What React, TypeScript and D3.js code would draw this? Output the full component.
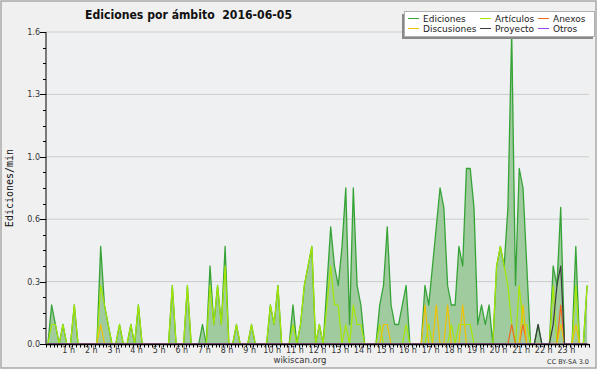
import React from 'react';
import * as d3 from 'd3';

// edits per minute, one value per 10-minute slot (6 per hour)
const ediciones = [
  0, 0.2, 0.1, 0, 0.1, 0,     // 0 h
  0, 0.2, 0, 0, 0, 0,         // 1 h
  0, 0, 0.5, 0.2, 0.1, 0,     // 2 h
  0, 0.1, 0, 0, 0.1, 0,       // 3 h
  0.2, 0, 0, 0, 0, 0,         // 4 h
  0, 0, 0, 0.3, 0, 0,         // 5 h
  0, 0.3, 0, 0, 0, 0.1,       // 6 h
  0, 0.4, 0.1, 0.3, 0.1, 0.5, // 7 h
  0, 0, 0.1, 0, 0, 0,         // 8 h
  0.1, 0, 0, 0, 0, 0.2,       // 9 h
  0.1, 0.3, 0, 0, 0, 0.2,     // 10 h
  0, 0.1, 0.3, 0.4, 0.5, 0,   // 11 h
  0.1, 0, 0.3, 0.6, 0.4, 0.3, // 12 h
  0.5, 0.8, 0.1, 0.8, 0.3, 0.2, // 13 h
  0, 0, 0, 0, 0.2, 0.3,       // 14 h
  0.6, 0.2, 0.1, 0.1, 0.2, 0.3, // 15 h
  0, 0, 0, 0, 0.3, 0.2,       // 16 h
  0.4, 0.6, 0.8, 0.7, 0.3, 0.2, // 17 h
  0.2, 0.5, 0.4, 0.9, 0.9, 0.7, // 18 h
  0.1, 0.2, 0.1, 0.2, 0, 0.4, // 19 h
  0.5, 0.4, 0.7, 1.6, 0.3, 0.9, // 20 h
  0.8, 0.4, 0, 0, 0.1, 0,     // 21 h
  0, 0, 0.4, 0.3, 0.7, 0,     // 22 h
  0, 0, 0.5, 0, 0, 0.3,       // 23 h
];

const articulos = [
  0, 0.1, 0.1, 0, 0.1, 0,
  0, 0.2, 0, 0, 0, 0,
  0, 0, 0.3, 0.2, 0.1, 0,
  0, 0.1, 0, 0, 0.1, 0,
  0.2, 0, 0, 0, 0, 0,
  0, 0, 0, 0.3, 0, 0,
  0, 0.3, 0, 0, 0, 0,
  0, 0.3, 0.1, 0.3, 0.1, 0.4,
  0, 0, 0.1, 0, 0, 0,
  0.1, 0, 0, 0, 0, 0.2,
  0.1, 0.3, 0, 0, 0, 0.1,
  0, 0.1, 0.3, 0.4, 0.5, 0,
  0.1, 0, 0.2, 0.4, 0.2, 0.2,
  0, 0.1, 0, 0.2, 0.1, 0.1,
  0, 0, 0, 0, 0.1, 0,
  0, 0, 0, 0, 0, 0.1,
  0, 0, 0, 0, 0, 0.1,
  0, 0, 0, 0, 0, 0.1,
  0, 0.1, 0.1, 0.1, 0.1, 0,
  0, 0, 0, 0, 0, 0.4,
  0.5, 0.4, 0.3, 0.1, 0, 0.3,
  0.1, 0.1, 0, 0, 0, 0,
  0, 0, 0.3, 0, 0, 0,
  0, 0, 0.3, 0, 0, 0.3,
];

const anexos = [
  0, 0, 0, 0, 0, 0,
  0, 0, 0, 0, 0, 0,
  0, 0, 0, 0, 0, 0,
  0, 0, 0, 0, 0, 0,
  0, 0, 0, 0, 0, 0,
  0, 0, 0, 0, 0, 0,
  0, 0, 0, 0, 0, 0,
  0, 0, 0, 0, 0, 0,
  0, 0, 0, 0, 0, 0,
  0, 0, 0, 0, 0, 0,
  0, 0, 0, 0, 0, 0,
  0, 0, 0, 0, 0, 0,
  0, 0, 0, 0, 0, 0,
  0, 0, 0, 0, 0, 0,
  0, 0, 0, 0, 0, 0,
  0, 0, 0, 0, 0, 0,
  0, 0, 0, 0, 0, 0,
  0, 0, 0, 0, 0, 0,
  0, 0, 0, 0, 0, 0,
  0, 0, 0, 0, 0, 0,
  0, 0, 0, 0.1, 0, 0,
  0.1, 0, 0, 0, 0, 0,
  0, 0, 0, 0, 0.2, 0,
  0, 0, 0, 0, 0, 0,
];

const discusiones = [
  0, 0, 0, 0, 0, 0,
  0, 0, 0, 0, 0, 0,
  0, 0, 0.1, 0, 0, 0,
  0, 0, 0, 0, 0, 0,
  0, 0, 0, 0, 0, 0,
  0, 0, 0, 0, 0, 0,
  0, 0, 0, 0, 0, 0,
  0, 0, 0, 0, 0, 0,
  0, 0, 0, 0, 0, 0,
  0, 0, 0, 0, 0, 0,
  0, 0, 0, 0, 0, 0,
  0, 0, 0, 0, 0, 0,
  0, 0, 0, 0, 0, 0,
  0, 0, 0, 0, 0, 0,
  0, 0, 0, 0, 0, 0.1,
  0.1, 0, 0, 0, 0, 0,
  0, 0, 0, 0, 0.2, 0,
  0, 0.2, 0, 0, 0.2, 0,
  0, 0, 0.2, 0, 0, 0,
  0, 0, 0, 0, 0, 0,
  0, 0, 0, 0, 0, 0,
  0.2, 0, 0, 0, 0, 0,
  0, 0, 0, 0, 0.1, 0,
  0, 0, 0.1, 0, 0, 0,
];

const proyecto = [
  0, 0, 0, 0, 0, 0,
  0, 0, 0, 0, 0, 0,
  0, 0, 0, 0, 0, 0,
  0, 0, 0, 0, 0, 0,
  0, 0, 0, 0, 0, 0,
  0, 0, 0, 0, 0, 0,
  0, 0, 0, 0, 0, 0,
  0, 0, 0, 0, 0, 0,
  0, 0, 0, 0, 0, 0,
  0, 0, 0, 0, 0, 0,
  0, 0, 0, 0, 0, 0,
  0, 0, 0, 0, 0, 0,
  0, 0, 0, 0, 0, 0,
  0, 0, 0, 0, 0, 0,
  0, 0, 0, 0, 0, 0,
  0, 0, 0, 0, 0, 0,
  0, 0, 0, 0, 0, 0,
  0, 0, 0, 0, 0, 0,
  0, 0, 0, 0, 0, 0,
  0, 0, 0, 0, 0, 0,
  0, 0, 0, 0, 0, 0,
  0, 0, 0, 0, 0.1, 0,
  0, 0, 0.1, 0.3, 0.4, 0,
  0, 0, 0, 0, 0, 0,
];

const otros = [
  0, 0, 0, 0, 0, 0,
  0, 0, 0, 0, 0, 0,
  0, 0, 0, 0, 0, 0,
  0, 0, 0, 0, 0, 0,
  0, 0, 0, 0, 0, 0,
  0, 0, 0, 0, 0, 0,
  0, 0, 0, 0, 0, 0,
  0, 0, 0, 0, 0, 0,
  0, 0, 0, 0, 0, 0,
  0, 0, 0, 0, 0, 0,
  0, 0, 0, 0, 0, 0,
  0, 0, 0, 0, 0, 0,
  0, 0, 0, 0, 0, 0,
  0, 0, 0, 0, 0, 0,
  0, 0, 0, 0, 0, 0,
  0, 0, 0, 0, 0, 0,
  0, 0, 0, 0, 0, 0,
  0, 0, 0, 0, 0, 0,
  0, 0, 0, 0, 0, 0,
  0, 0, 0, 0, 0, 0,
  0, 0, 0, 0, 0, 0,
  0, 0, 0, 0, 0, 0,
  0, 0, 0, 0, 0, 0,
  0, 0, 0, 0, 0, 0,
];

const seriesNames = ['Ediciones', 'Artículos', 'Anexos', 'Discusiones', 'Proyecto', 'Otros'];
const seriesColors = ['#36a336', '#a6e800', '#f06a1e', '#f2c200', '#3a3a3a', '#9a44ee'];

const yTicks = [0, 0.32, 0.64, 0.96, 1.28, 1.6];
const yTickLabels = ['0.0', '0.3', '0.6', '1.0', '1.3', '1.6'];
const hourLabels = ['1 h', '2 h', '3 h', '4 h', '5 h', '6 h', '7 h', '8 h', '9 h', '10 h', '11 h', '12 h',
  '13 h', '14 h', '15 h', '16 h', '17 h', '18 h', '19 h', '20 h', '21 h', '22 h', '23 h'];

const title = 'Ediciones por ámbito  2016-06-05';

function App() {
  const width = 600, height = 370;
  const left = 46, right = 589, top = 32, bottom = 344;

  // minutes of the day -> px
  const x = d3.scaleLinear().domain([0, 1440]).range([left, right]);
  const y = d3.scaleLinear().domain([0, 1.6]).range([bottom, top]);
  const px = (d: number, i: number) => x(i * 10 + 5);

  const area = d3.area<number>().x(px).y0(y(0)).y1(d => y(d));
  const line = d3.line<number>().x(px).y(d => y(d));

  const lines = [articulos, anexos, discusiones, proyecto, otros];
  const minorTicks = d3.range(0, 1.6001, 0.08);
  const slotTicks = d3.range(0, 1441, 10);
  const font = '"DejaVu Sans", sans-serif';

  // legend: 3 columns, 2 rows
  const legendCols = [408, 480, 538];
  const legendRows = [19, 29];

  return (
    <svg width={width} height={height} style={{ position: 'absolute', left: 0, top: 0 }}>
      <rect x={0} y={0} width={width} height={height} fill="#ffffff" />
      <rect x={1} y={1} width={595} height={367} fill="#f0f0f0" stroke="#a8a8a8" strokeWidth={1.5} />
      <rect x={left} y={top} width={right - left} height={bottom - top} fill="#eef0f2" />

      {/* grid */}
      {yTicks.slice(1).map(t => (
        <line key={t} x1={left} x2={right} y1={y(t)} y2={y(t)} stroke="#cccccc" strokeWidth={1} />
      ))}

      {/* series */}
      <path d={area(ediciones) || ''} fill="#9fcb9f" stroke="none" />
      <path d={line(ediciones) || ''} fill="none" stroke={seriesColors[0]} strokeWidth={1.3} strokeLinejoin="round" />
      {lines.map((s, k) => (
        <path key={k} d={line(s) || ''} fill="none" stroke={seriesColors[k + 1]} strokeWidth={1.2} strokeLinejoin="round" />
      ))}

      {/* y axis */}
      <line x1={left} x2={left} y1={top} y2={bottom} stroke="#000" />
      {minorTicks.map((t, i) => (
        <line key={i} x1={left - (i % 4 === 0 ? 6 : 3)} x2={left} y1={Math.round(y(t)) + 0.5} y2={Math.round(y(t)) + 0.5} stroke="#000" />
      ))}
      {yTicks.map((t, i) => (
        <text key={t} x={left - 6} y={y(t) + 3} textAnchor="end" fontFamily={font} fontSize={8} fill="#333">
          {yTickLabels[i]}
        </text>
      ))}
      <text transform={`translate(13,188) rotate(-90)`} textAnchor="middle" fontFamily='"DejaVu Sans Mono", monospace' fontSize={10} fill="#111">
        Ediciones/min
      </text>

      {/* x axis */}
      <line x1={left} x2={right} y1={bottom + 0.5} y2={bottom + 0.5} stroke="#000" strokeWidth={1.5} />
      {slotTicks.map(m => (
        <line key={m} x1={Math.round(x(m)) + 0.5} x2={Math.round(x(m)) + 0.5} y1={bottom} y2={bottom + 3.5} stroke="#000" />
      ))}
      {hourLabels.map((l, i) => (
        <text key={l} x={x((i + 1) * 60)} y={353} textAnchor="middle" fontFamily={font} fontSize={8} fill="#333">
          {l}
        </text>
      ))}

      {/* title */}
      <text x={85} y={19} fontFamily={font} fontWeight="bold" fontSize={12} fill="#111"
        textLength={207} lengthAdjust="spacingAndGlyphs" style={{ whiteSpace: 'pre' }}>
        {title}
      </text>

      {/* legend */}
      <rect x={402} y={14} width={191} height={25} fill="#888" />
      <rect x={404.5} y={11.5} width={190} height={25} fill="#fff" stroke="#b0b0b0" />
      {seriesNames.map((n, i) => {
        const cx = legendCols[i % 3];
        const cy = legendRows[Math.floor(i / 3)];
        return (
          <g key={n}>
            <line x1={cx} x2={cx + 11} y1={cy - 0.5} y2={cy - 0.5} stroke={seriesColors[i]} strokeWidth={1} />
            <text x={cx + 15} y={cy + 3} fontFamily={font} fontSize={9} fill="#222">{n}</text>
          </g>
        );
      })}

      {/* credits */}
      <text x={300} y={363} textAnchor="middle" fontFamily={font} fontSize={8.5} fill="#333">wikiscan.org</text>
      <text x={589} y={364} textAnchor="end" fontFamily={font} fontSize={6.5} fill="#333">CC BY-SA  3.0</text>
    </svg>
  );
}

export default App;
